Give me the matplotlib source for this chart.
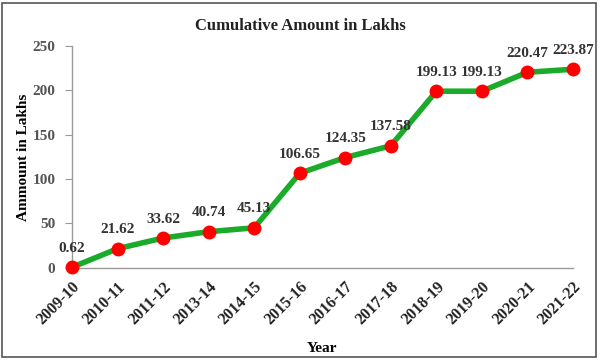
"""
Cumulative amount in lakhs, year by year
"""
import matplotlib
matplotlib.use('Agg')
import matplotlib.pyplot as plt
from matplotlib.patches import Rectangle

years = ['2009-10', '2010-11', '2011-12', '2013-14', '2014-15', '2015-16',
         '2016-17', '2017-18', '2018-19', '2019-20', '2020-21', '2021-22']
amounts = [0.62, 21.62, 33.62, 40.74, 45.13, 106.65,
           124.35, 137.58, 199.13, 199.13, 220.47, 223.87]
y_ticks = [0, 50, 100, 150, 200, 250]

plt.rcParams['font.family'] = ['Liberation Serif', 'DejaVu Serif']
plt.rcParams['font.weight'] = 'bold'

fig = plt.figure(figsize=(6, 3.6), dpi=100)
ax = fig.add_axes([0.12, 0.256, 0.835, 0.616])

x = list(range(len(years)))
ax.plot(x, amounts, color='#1aab2a', linewidth=4, marker='o',
        markersize=9, markerfacecolor='#ff0000', markeredgecolor='#ff0000',
        clip_on=False, zorder=3)

for xi, v in zip(x, amounts):
    ax.annotate(f'{v:.2f}', (xi, v), xytext=(0, 9), textcoords='offset points',
                ha='center', va='bottom', fontsize=11, fontweight='bold',
                color='#333333')

ax.set_xlim(0, len(years) - 1)
ax.set_ylim(0, 250)
ax.set_yticks(y_ticks)
ax.set_yticklabels([str(t) for t in y_ticks], fontsize=11, color='#555555')
ax.set_xticks(x)
ax.set_xticklabels(years, rotation=45, ha='right', rotation_mode='anchor',
                   fontsize=11.5, fontweight='bold', color='#222222')
ax.tick_params(axis='x', length=0, pad=8)
ax.tick_params(axis='y', length=5, color='#999999', pad=7)

for side in ['top', 'right']:
    ax.spines[side].set_visible(False)
for side in ['left', 'bottom']:
    ax.spines[side].set_color('#999999')
    ax.spines[side].set_linewidth(1)

ax.set_xlabel('Year', fontsize=11, fontweight='bold', labelpad=10)
ax.set_ylabel('Ammount in Lakhs', fontsize=11, fontweight='bold', labelpad=2)
fig.suptitle('Cumulative Amount in Lakhs', fontsize=12, fontweight='bold',
             y=0.95, color='#222222')

fig.patches.append(Rectangle((0.004, 0.008), 0.99, 0.985, transform=fig.transFigure,
                             fill=False, edgecolor='#555555', linewidth=1.2))

fig.savefig('out.png', dpi=100)
